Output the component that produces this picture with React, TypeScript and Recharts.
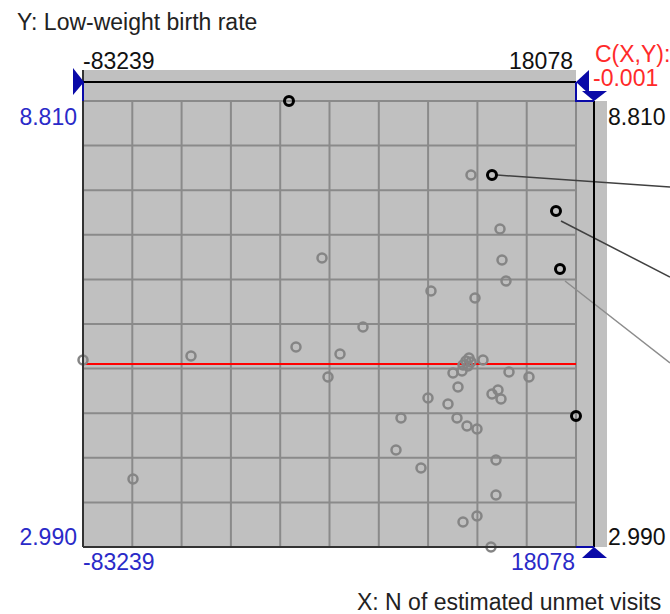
import { CartesianGrid, ReferenceLine, Scatter, ScatterChart, XAxis, YAxis } from 'recharts';

// axis ranges shown on the frame
const X_MIN = -83239;
const X_MAX = 18078;
const Y_MIN = 2.99;
const Y_MAX = 8.81;
const X_TICKS = [X_MIN, X_MAX];
const Y_TICKS = [Y_MIN, Y_MAX];

// all counties (gray)
const GRAY_X = [
  -3501, 2459, 2870, 3692, -11722, -2679, -34122, -25696, -39465, -61044, -30423, -83239, -32889, -72963,
  -5145, -4529, -3912, -4118, -3501, -1035, -7200, -5351, 4308, 8418, -6173, -12338, -8228, 815, 2048, 2664,
  -17887, -6378, -4323, -2268, -18914, 1637, -13777, 1637, -2268, -5145, 609,
];
const GRAY_Y = [
  7.844, 7.14, 6.735, 6.461, 6.331, 6.239, 6.761, 5.861, 5.6, 5.483, 5.509, 5.43, 5.208, 3.877,
  5.365, 5.417, 5.456, 5.352, 5.404, 5.43, 5.261, 5.287, 5.274, 5.208, 5.078, 4.934, 4.856, 4.987, 5.039, 4.921,
  4.673, 4.673, 4.569, 4.53, 4.256, 4.125, 4.021, 3.669, 3.395, 3.316, 2.99,
];

// highlighted (black) points
const HIGH_X = [-40904, 815, 13967, 14789, 18078];
const HIGH_Y = [8.81, 7.844, 7.375, 6.618, 4.7];

// fitted line and correlation
const FIT_Y = 5.378;
const CORRELATION = '-0.001';

// leader lines running to labels past the right edge
const LEADER_X1 = [1843, 14995, 15817];
const LEADER_Y1 = [7.844, 7.244, 6.461];
const LEADER_X2 = [37396, 37396, 37396];
const LEADER_Y2 = [7.688, 6.513, 5.391];
const LEADER_COLORS = ['#404040', '#404040', '#8c8c8c'];

const grayPoints = GRAY_X.map((x, i) => ({ x, y: GRAY_Y[i] }));
const highPoints = HIGH_X.map((x, i) => ({ x, y: HIGH_Y[i] }));

const W = 670;
const H = 614;
const AXIS_W = 60;
const AXIS_H = 30;
const MARGIN = { top: 71, right: 34, bottom: 37, left: 23 };
const P = {
  l: MARGIN.left + AXIS_W,
  t: MARGIN.top + AXIS_H,
  r: W - MARGIN.right - AXIS_W,
  b: H - MARGIN.bottom - AXIS_H,
};
const BAND_T = P.t - 31;
const LINE_Y = P.t - 19;
const LINE_X = P.r + 18;
const STRIP_R = P.r + 31;

const FONT = '"Liberation Sans", Arial, sans-serif';
const FS = 23;
const BLUE = '#2a2ac8';
const MARK = '#0a0aa8';
const BG = '#c0c0c0';

const BottomTick = ({ x, y, payload }: any) => {
  const first = payload.value === X_MIN;
  return (
    <text x={first ? x : x - 1} y={y + 23} textAnchor={first ? 'start' : 'end'} fill={BLUE} fontSize={FS} fontFamily={FONT}>
      {payload.value}
    </text>
  );
};

const TopTick = ({ x, y, payload }: any) => {
  const first = payload.value === X_MIN;
  return (
    <text x={first ? x : x - 3} y={y - 32} textAnchor={first ? 'start' : 'end'} fill="#111" fontSize={FS} fontFamily={FONT}>
      {payload.value}
    </text>
  );
};

const LeftTick = ({ x, y, payload }: any) => (
  <text x={x - 6} y={payload.value === Y_MAX ? y + 24 : y - 2} textAnchor="end" fill={BLUE} fontSize={FS} fontFamily={FONT}>
    {payload.value.toFixed(3)}
  </text>
);

const RightTick = ({ x, y, payload }: any) => (
  <text x={x + 32} y={payload.value === Y_MAX ? y + 24 : y - 2} textAnchor="start" fill="#111" fontSize={FS} fontFamily={FONT}>
    {payload.value.toFixed(3)}
  </text>
);

const grayDot = (p: any) => <circle cx={p.cx} cy={p.cy} r={4.5} fill="none" stroke="#858585" strokeWidth={2.5} />;
const blackDot = (p: any) => <circle cx={p.cx} cy={p.cy} r={4.5} fill="none" stroke="#000" strokeWidth={3} />;

const gridX = ({ offset }: any) => Array.from({ length: 11 }, (_, i) => offset.left + (i * offset.width) / 10);
const gridY = ({ offset }: any) => Array.from({ length: 11 }, (_, i) => offset.top + (i * offset.height) / 10);

function Frame() {
  return (
    <svg width={W} height={H} style={{ position: 'absolute', left: 0, top: 0, pointerEvents: 'none' }} fontFamily={FONT}>
      <line x1={P.l} y1={BAND_T} x2={P.l} y2={P.b} stroke="#333" strokeWidth={2} />
      <line x1={P.l} y1={P.b} x2={P.r} y2={P.b} stroke="#333" strokeWidth={2} />
      <line x1={P.l} y1={LINE_Y} x2={P.r} y2={LINE_Y} stroke="#000" strokeWidth={2} />
      <line x1={LINE_X} y1={P.t} x2={LINE_X} y2={P.b} stroke="#000" strokeWidth={2} />
      <line x1={P.l} y1={LINE_Y} x2={P.l} y2={P.t} stroke={MARK} strokeWidth={2} />
      <polyline points={`${P.r},${LINE_Y} ${P.r},${P.t} ${LINE_X},${P.t}`} fill="none" stroke={MARK} strokeWidth={2} />
      <line x1={P.r} y1={P.b} x2={LINE_X} y2={P.b} stroke={MARK} strokeWidth={2} />
      <polygon points={`${P.l - 10},${LINE_Y - 14} ${P.l + 1},${LINE_Y} ${P.l - 10},${LINE_Y + 13}`} fill={MARK} />
      <polygon points={`${P.r},${LINE_Y} ${P.r + 13},${LINE_Y - 12} ${P.r + 13},${LINE_Y + 12}`} fill={MARK} />
      <polygon points={`${LINE_X},${P.t} ${LINE_X - 12},${P.t - 10} ${LINE_X + 13},${P.t - 10}`} fill={MARK} />
      <polygon points={`${LINE_X},${P.b} ${LINE_X - 12},${P.b + 11} ${LINE_X + 13},${P.b + 11}`} fill={MARK} />
      <text x={17} y={30} fontSize={FS} fill="#222">Y: Low-weight birth rate</text>
      <text x={357} y={610} fontSize={FS} fill="#222">X: N of estimated unmet visits</text>
      <text x={595} y={62} fontSize={FS} fill="#ff2a2a">C(X,Y):</text>
      <text x={593} y={86} fontSize={FS} fill="#ff2a2a">{CORRELATION}</text>
    </svg>
  );
}

export default function App() {
  return (
    <div style={{ position: 'relative', width: W, height: H, overflow: 'hidden' }}>
      <style>{'body{margin:0}'}</style>
      <div style={{ position: 'absolute', left: P.l, top: BAND_T, width: P.r - P.l, height: P.b - BAND_T, background: BG }} />
      <div style={{ position: 'absolute', left: P.r, top: P.t, width: STRIP_R - P.r, height: P.b - P.t, background: BG }} />
      <div style={{ position: 'absolute', left: 0, top: 0 }}>
        <ScatterChart width={W} height={H} margin={MARGIN} style={{ fontFamily: FONT }}>
          <CartesianGrid stroke="#8a8a8a" strokeWidth={2} verticalCoordinatesGenerator={gridX} horizontalCoordinatesGenerator={gridY} />
          <XAxis type="number" dataKey="x" domain={[X_MIN, X_MAX]} ticks={X_TICKS} interval={0} height={AXIS_H}
            axisLine={false} tickLine={false} tickSize={0} tickMargin={0} tick={<BottomTick />} />
          <XAxis xAxisId="top" orientation="top" type="number" dataKey="x" domain={[X_MIN, X_MAX]} ticks={X_TICKS} interval={0} height={AXIS_H}
            axisLine={false} tickLine={false} tickSize={0} tickMargin={0} tick={<TopTick />} />
          <YAxis type="number" dataKey="y" domain={[Y_MIN, Y_MAX]} ticks={Y_TICKS} interval={0} width={AXIS_W}
            axisLine={false} tickLine={false} tickSize={0} tickMargin={0} tick={<LeftTick />} />
          <YAxis yAxisId="right" orientation="right" type="number" dataKey="y" domain={[Y_MIN, Y_MAX]} ticks={Y_TICKS} interval={0} width={AXIS_W}
            axisLine={false} tickLine={false} tickSize={0} tickMargin={0} tick={<RightTick />} />
          <ReferenceLine y={FIT_Y} stroke="#ff0000" strokeWidth={2} />
          {LEADER_X1.map((x1, i) => (
            <ReferenceLine key={i} ifOverflow="visible" stroke={LEADER_COLORS[i]} strokeWidth={1.5}
              segment={[{ x: x1, y: LEADER_Y1[i] }, { x: LEADER_X2[i], y: LEADER_Y2[i] }]} />
          ))}
          <Scatter data={grayPoints} shape={grayDot} isAnimationActive={false} />
          <Scatter data={highPoints} xAxisId="top" yAxisId="right" shape={blackDot} isAnimationActive={false} />
        </ScatterChart>
      </div>
      <Frame />
    </div>
  );
}
